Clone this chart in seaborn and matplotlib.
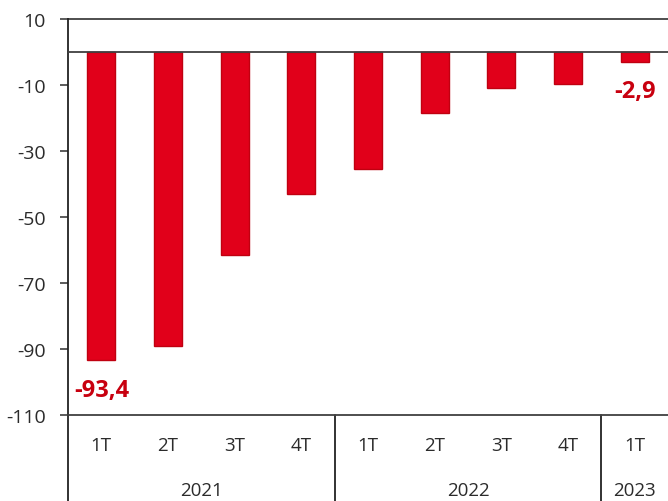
import pandas as pd
import matplotlib.pyplot as plt
import seaborn as sns

# data
years = ["2021", "2021", "2021", "2021", "2022", "2022", "2022", "2022", "2023"]
quarters = ["1T", "2T", "3T", "4T", "1T", "2T", "3T", "4T", "1T"]
values = [-93.4, -89.0, -61.5, -43.0, -35.6, -18.4, -11.0, -9.6, -2.9]
labelled = {0: "-93,4", 8: "-2,9"}
yticks = [10, -10, -30, -50, -70, -90, -110]

df = pd.DataFrame({"period": [y + " " + q for y, q in zip(years, quarters)],
                   "value": values})

sns.set_style("white")
plt.rcParams["font.family"] = ["Open Sans", "DejaVu Sans"]

red = "#E1001A"
dark_red = "#C00010"
txt = "#2b2b2b"
line_c = "#404040"

fig = plt.figure(figsize=(6.68, 5.02), dpi=100)
ax = fig.add_axes([68 / 668, 1 - 416 / 502, 1 - 68 / 668, 396 / 502])

sns.barplot(data=df, x="period", y="value", ax=ax, color=red, width=0.42,
            edgecolor=dark_red, linewidth=1, saturation=1)

ax.set_ylim(-110, 10)
ax.set_xlim(-0.5, len(values) - 0.5)
ax.set_yticks(yticks)
ax.set_yticklabels(["-" + str(abs(t)) if t < 0 else str(t) for t in yticks],
                   fontsize=14, color=txt)
ax.tick_params(axis="y", length=6, width=1.2, color=line_c, pad=10, left=True)
ax.set_xticks([])
ax.set_xlabel("")
ax.set_ylabel("")

for s in ["top", "right"]:
    ax.spines[s].set_visible(False)
ax.spines["left"].set_color("#222222")
ax.spines["left"].set_linewidth(1.3)
ax.spines["bottom"].set_color(line_c)
ax.spines["bottom"].set_linewidth(1.3)

ax.axhline(10, color=line_c, lw=1.3, clip_on=False, zorder=0)
ax.axhline(0, color=line_c, lw=1.3, zorder=3)

# value labels
for i, lab in labelled.items():
    ax.text(i, values[i] - 9, lab, ha="center", va="center", fontsize=17,
            fontweight="bold", color="#C8000F")

# two-level category axis
tr = ax.get_xaxis_transform()
for i, q in enumerate(quarters):
    ax.text(i, -0.075, q, transform=tr, ha="center", va="center",
            fontsize=13.5, color=txt)

groups = {}
for i, y in enumerate(years):
    groups.setdefault(y, []).append(i)
for y, idx in groups.items():
    ax.text((idx[0] + idx[-1]) / 2, -0.19, y, transform=tr, ha="center",
            va="center", fontsize=13.5, color=txt)

bounds = [-0.5] + [i + 0.5 for i in range(len(years) - 1) if years[i] != years[i + 1]]
for b in bounds:
    ax.plot([b, b], [0, -0.25], transform=tr, color="#222222", lw=1.3,
            clip_on=False)

fig.savefig("out.png", dpi=100)
